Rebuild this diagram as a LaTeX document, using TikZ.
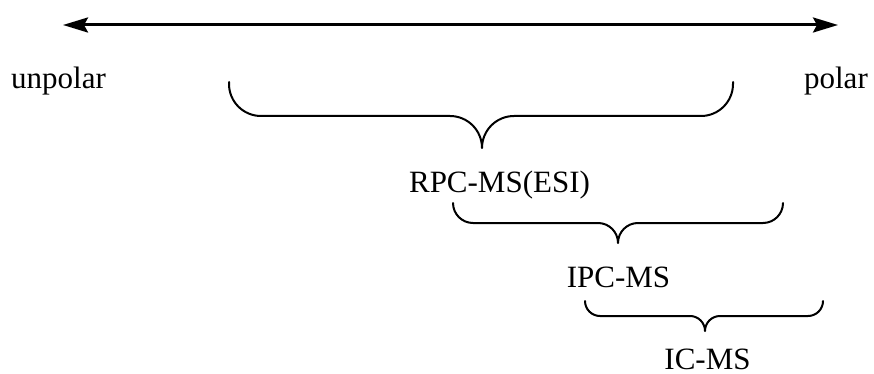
\documentclass[tikz,border=0pt]{standalone}
\usepackage{fontspec}
\setmainfont{Liberation Serif}
\usetikzlibrary{arrows.meta}
\tikzset{
  lbl/.style={inner sep=0pt, font=\fontsize{31}{37}\selectfont},
  bracepath/.style={line width=2pt, line cap=round, line join=round},
  axis/.style={line width=3pt, {Stealth[length=25pt,width=15pt,inset=4pt]}-{Stealth[length=25pt,width=15pt,inset=4pt]}}
}
% brace: #1 left x, #2 right x, #3 top y, #4 horizontal y, #5 radius, #6 tip x
\newcommand{\mybrace}[6]{%
  \draw[bracepath] (#1,#3) -- (#1,#4-#5)
    .. controls (#1,#4-0.448*#5) and (#1+0.448*#5,#4) .. (#1+#5,#4)
    -- (#6-#5,#4)
    .. controls (#6-0.448*#5,#4) and (#6,#4+0.448*#5) .. (#6,#4+#5)
    .. controls (#6,#4+0.448*#5) and (#6+0.448*#5,#4) .. (#6+#5,#4)
    -- (#2-#5,#4)
    .. controls (#2-0.448*#5,#4) and (#2,#4-0.448*#5) .. (#2,#4-#5)
    -- (#2,#3);
}
\begin{document}
\begin{tikzpicture}[x=1pt,y=-1pt]
\useasboundingbox (0,0) rectangle (874,374);
\coordinate (L) at (63,25);
\coordinate (R) at (838,25);
\draw[axis] (L) -- (R);
\node[lbl, anchor=base west] (unpolar) at (11,89) {unpolar};
\node[lbl, anchor=base east] (polar) at (868,89) {polar};
\mybrace{229}{733}{82}{116}{32}{482}
\mybrace{453}{783}{203}{223}{20}{618}
\mybrace{585}{823}{301}{316}{15}{705}
\node[lbl, anchor=base] (rpc) at (499.5,192) {RPC-MS(ESI)};
\node[lbl, anchor=base] (ipc) at (618.5,287) {IPC-MS};
\node[lbl, anchor=base] (ic) at (707.5,369) {IC-MS};
\end{tikzpicture}
\end{document}
